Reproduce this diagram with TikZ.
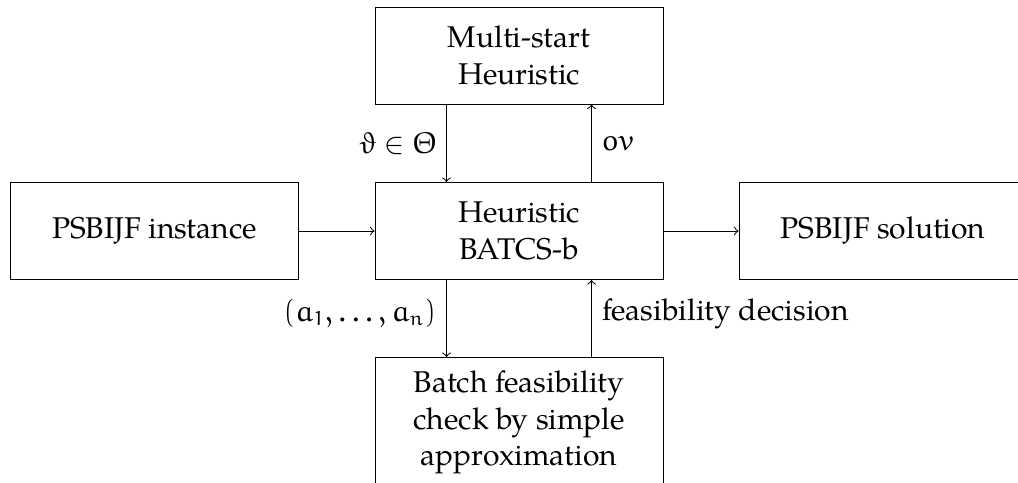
\documentclass[tikz,border=0pt,12pt]{standalone}
\IfFileExists{euler.sty}{\usepackage{euler}}{}
\usepackage{fontspec}
\IfFontExistsTF{TeX Gyre Pagella}{\setmainfont{TeX Gyre Pagella}}{}
\usepackage{tikz}
\tikzset{every picture/.style={line width=0.4pt}}
\tikzset{blk/.style={draw, align=center, minimum width=115.2pt, minimum height=38.8pt, inner sep=3pt}}

\begin{document}
\begin{tikzpicture}[x=0.4pt,y=0.4pt,yscale=-1,xscale=1]
\useasboundingbox (0,0) rectangle (1018,482);

%Shape: Rectangle [id:multi]
\node [blk] (multi) at (519,55.5) {Multi-start\\Heuristic};
%Shape: Rectangle [id:heur]
\node [blk] (heur) at (519,231) {Heuristic\\BATCS-b};
%Shape: Rectangle [id:inst]
\node [blk] (inst) at (154.5,231) {PSBIJF instance};
%Shape: Rectangle [id:sol]
\node [blk] (sol) at (883,231) {PSBIJF solution};
%Shape: Rectangle [id:check]
\node [blk, anchor=north, minimum height=52pt] (check) at (519,357) {Batch feasibility\\check by simple\\approximation};

%Straight Lines
\draw [->] (inst) -- (heur);
\draw [->] (heur) -- (sol);
\draw [->] ([xshift=-29pt]multi.south) -- node [left] {$\vartheta\in\Theta$} ([xshift=-29pt]heur.north);
\draw [->] ([xshift=29pt]heur.north) -- node [right] {$ov$} ([xshift=29pt]multi.south);
\draw [->] ([xshift=-29pt]heur.south) -- node [left, yshift=2pt] {$(a_1,\dots,a_n)$} ([xshift=-29pt]check.north);
\draw [->] ([xshift=29pt]check.north) -- node [right, yshift=2pt] {feasibility decision} ([xshift=29pt]heur.south);

\end{tikzpicture}
\end{document}
